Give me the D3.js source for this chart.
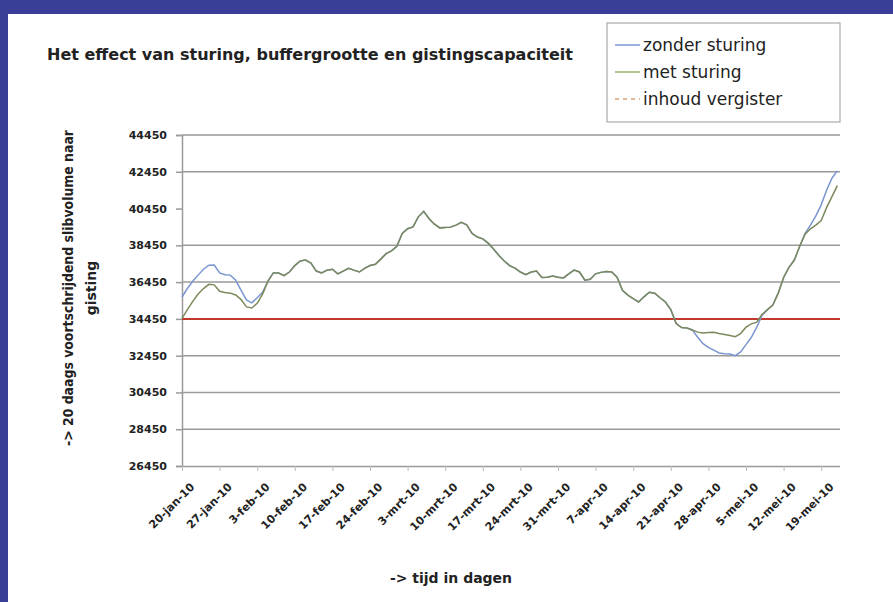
<!DOCTYPE html>
<html>
<head>
<meta charset="utf-8">
<script src="https://cdn.jsdelivr.net/npm/d3@7"></script>
<style>
  body { margin: 0; background: #fff; }
  svg { display: block; }
  text { font-family: "DejaVu Sans", "Liberation Sans", Arial, sans-serif; fill: #222; }
</style>
</head>
<body>
<div id="chart"></div>
<script>
// data: day 0 = 20-jan-10
const startDatum = new Date(2010, 0, 20);
const dagen = d3.range(0, 123);
const metSturing = [
  34480, 34950, 35400, 35800, 36100, 36330, 36300, 35950, 35880, 35850,
  35750, 35500, 35100, 35040, 35300, 35800, 36500, 36950, 36940, 36800,
  37000, 37350, 37600, 37650, 37480, 37050, 36950, 37100, 37150, 36900,
  37050, 37200, 37100, 37000, 37200, 37350, 37420, 37700, 38000, 38150,
  38400, 39100, 39350, 39450, 40000, 40300, 39900, 39600, 39400, 39420,
  39440, 39550, 39700, 39560, 39100, 38900, 38800, 38570, 38250, 37900,
  37600, 37350, 37210, 37000, 36850, 37000, 37050, 36700, 36720, 36780,
  36720, 36680, 36900, 37100, 37000, 36550, 36600, 36900, 36980, 37030,
  37000, 36720, 36000, 35740, 35550, 35370, 35650, 35900, 35850, 35600,
  35370, 34950, 34200, 33980, 33950, 33850, 33730, 33680, 33710, 33720,
  33650, 33600, 33550, 33480, 33650, 34000, 34180, 34270, 34700, 34950,
  35200, 35850, 36700, 37250, 37650, 38400, 39050, 39350, 39550, 39800,
  40500, 41100, 41700
];
const zonderSturing = [
  35640, 36100, 36500, 36830, 37150, 37370, 37380, 36950, 36850, 36830,
  36550, 36000, 35480, 35320, 35600, 35900, 36500, 36950, 36940, 36800,
  37000, 37350, 37600, 37650, 37480, 37050, 36950, 37100, 37150, 36900,
  37050, 37200, 37100, 37000, 37200, 37350, 37420, 37700, 38000, 38150,
  38400, 39100, 39350, 39450, 40000, 40300, 39900, 39600, 39400, 39420,
  39440, 39550, 39700, 39560, 39100, 38900, 38800, 38570, 38250, 37900,
  37600, 37350, 37210, 37000, 36850, 37000, 37050, 36700, 36720, 36780,
  36720, 36680, 36900, 37100, 37000, 36550, 36600, 36900, 36980, 37030,
  37000, 36720, 36000, 35740, 35550, 35370, 35650, 35900, 35850, 35600,
  35370, 34950, 34200, 33980, 33950, 33850, 33450, 33100, 32900, 32750,
  32600, 32560, 32540, 32450, 32650, 33050, 33450, 34000, 34650, 34950,
  35200, 35850, 36700, 37250, 37650, 38400, 39100, 39550, 40050, 40650,
  41450, 42100, 42500
];
const inhoudVergister = 34450;
const yTicks = [26450, 28450, 30450, 32450, 34450, 36450, 38450, 40450, 42450, 44450];
const xTickDagen = [0, 7, 14, 21, 28, 35, 42, 49, 56, 63, 70, 77, 84, 91, 98, 105, 112, 119];
const maanden = ["jan", "feb", "mrt", "apr", "mei"];

const W = 893, H = 602;
const plotLeft = 182, plotRight = 840, plotTop = 135, plotBottom = 466;

const svg = d3.select("#chart").append("svg")
  .attr("width", W)
  .attr("height", H);

svg.append("rect").attr("width", W).attr("height", H).attr("fill", "#fff");
// blue frame (top and left only)
svg.append("rect").attr("x", 0).attr("y", 0).attr("width", W).attr("height", 14).attr("fill", "#3b3e99");
svg.append("rect").attr("x", 0).attr("y", 0).attr("width", 8).attr("height", H).attr("fill", "#3b3e99");

const dag = i => d3.timeDay.offset(startDatum, i);

const x = d3.scaleTime()
  .domain([startDatum, d3.timeHour.offset(startDatum, 122.5 * 24)])
  .range([plotLeft, plotRight]);
const y = d3.scaleLinear()
  .domain([26450, 44450])
  .range([plotBottom, plotTop]);

// gridlines (the 40450 line is not drawn in the original)
svg.append("g").selectAll("line")
  .data(yTicks.filter(t => t !== 26450 && t !== 40450 && t !== inhoudVergister))
  .enter().append("line")
  .attr("x1", plotLeft).attr("x2", plotRight)
  .attr("y1", d => y(d)).attr("y2", d => y(d))
  .attr("stroke", "#9a9a9a").attr("stroke-width", 1.5);

// y axis
const yAxis = svg.append("g")
  .attr("transform", "translate(" + plotLeft + ",0)")
  .call(d3.axisLeft(y).tickValues(yTicks).tickFormat(d3.format("d")).tickSize(6).tickPadding(9));
yAxis.select(".domain").attr("stroke", "#9a9a9a").attr("stroke-width", 1.5);
yAxis.selectAll(".tick line").attr("stroke", "#9a9a9a").attr("stroke-width", 1.5);
yAxis.selectAll("text")
  .style("font-family", "DejaVu Sans").style("font-size", "11px")
  .style("font-weight", "bold").attr("fill", "#333");

// x axis
const xAxis = svg.append("g")
  .attr("transform", "translate(0," + plotBottom + ")")
  .call(d3.axisBottom(x).tickValues(xTickDagen.map(dag)).tickSize(5)
    .tickFormat(d => d.getDate() + "-" + maanden[d.getMonth()] + "-10"));
xAxis.select(".domain").attr("d", "M" + plotLeft + ",0.5H" + plotRight)
  .attr("stroke", "#9a9a9a").attr("stroke-width", 1.5);
xAxis.selectAll(".tick line").attr("stroke", "#bbb");
xAxis.selectAll("text")
  .style("font-family", "DejaVu Sans").style("font-size", "11px")
  .style("font-weight", "bold").attr("fill", "#333")
  .style("text-anchor", "end")
  .attr("dx", 0).attr("dy", 0)
  .attr("transform", "translate(7,16) rotate(-45)");

// capacity line
svg.append("line")
  .attr("x1", plotLeft).attr("x2", plotRight)
  .attr("y1", y(inhoudVergister)).attr("y2", y(inhoudVergister))
  .attr("stroke", "#c0392b").attr("stroke-width", 2);

const lijn = reeks => d3.line()
  .x((d, i) => x(dag(dagen[i])))
  .y(d => y(d))(reeks);

svg.append("path").attr("d", lijn(zonderSturing))
  .attr("fill", "none").attr("stroke", "#7a96d0").attr("stroke-width", 1.5);
svg.append("path").attr("d", lijn(metSturing))
  .attr("fill", "none").attr("stroke", "#7b8a5c").attr("stroke-width", 1.5);

// title
svg.append("text")
  .attr("x", 47).attr("y", 60)
  .attr("textLength", 526).attr("lengthAdjust", "spacingAndGlyphs")
  .style("font-size", "15px").style("font-weight", "bold")
  .text("Het effect van sturing, buffergrootte en gistingscapaciteit");

// legend
const legend = svg.append("g");
legend.append("rect")
  .attr("x", 607).attr("y", 23).attr("width", 233).attr("height", 99)
  .attr("fill", "#fff").attr("stroke", "#aaa").attr("stroke-width", 1.2);
const legendItems = [
  { naam: "zonder sturing", kleur: "#7a96d0", dash: null },
  { naam: "met sturing", kleur: "#9aae6e", dash: null },
  { naam: "inhoud vergister", kleur: "#e0a070", dash: "4,4" }
];
legendItems.forEach((it, i) => {
  const ly = 45 + i * 27;
  legend.append("line")
    .attr("x1", 615).attr("x2", 640).attr("y1", ly).attr("y2", ly)
    .attr("stroke", it.kleur).attr("stroke-width", 1.5)
    .attr("stroke-dasharray", it.dash);
  legend.append("text")
    .attr("x", 643).attr("y", ly + 6)
    .style("font-size", "17px")
    .text(it.naam);
});

// axis titles
svg.append("text")
  .attr("transform", "translate(73,288) rotate(-90)")
  .attr("text-anchor", "middle")
  .attr("textLength", 316).attr("lengthAdjust", "spacingAndGlyphs")
  .style("font-size", "14px").style("font-weight", "bold")
  .text("-> 20 daags voortschrijdend slibvolume naar");
svg.append("text")
  .attr("transform", "translate(96,288) rotate(-90)")
  .attr("text-anchor", "middle")
  .style("font-size", "14px").style("font-weight", "bold")
  .text("gisting");
svg.append("text")
  .attr("x", 451).attr("y", 583)
  .attr("text-anchor", "middle")
  .style("font-size", "14px").style("font-weight", "bold")
  .text("-> tijd in dagen");
</script>
</body>
</html>
